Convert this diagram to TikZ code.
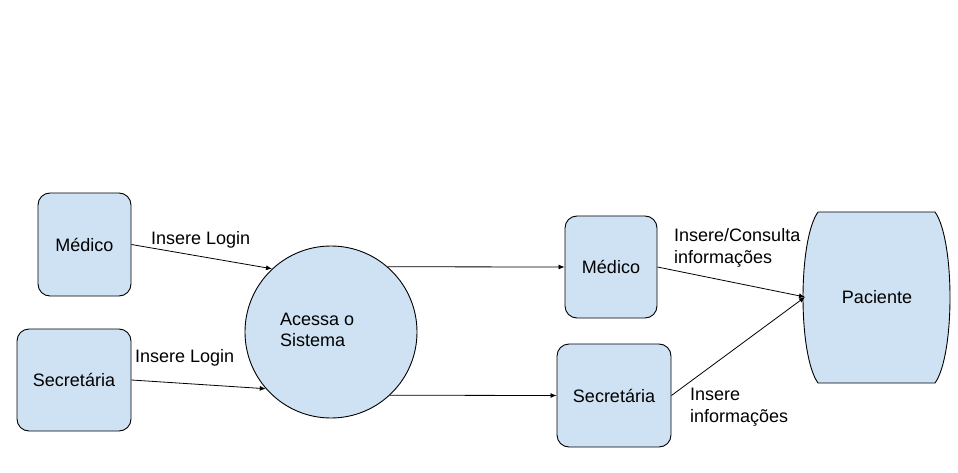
\documentclass[tikz,border=0pt]{standalone}
\usepackage{fontspec}
\setmainfont{Liberation Sans}
\usetikzlibrary{arrows.meta}
\definecolor{boxblue}{HTML}{CFE2F3}
\begin{document}
\begin{tikzpicture}[x=1pt,y=-1pt,
  every node/.style={font=\fontsize{18}{21.5}\selectfont},
  actor/.style={draw=black,fill=boxblue,line width=0.9pt,rounded corners=12pt,inner sep=0pt},
  flow/.style={draw=black,line width=0.8pt,-{Latex[length=6pt,width=5pt]}},
  lbl/.style={anchor=west,align=left,inner sep=0pt}]
\useasboundingbox (0,0) rectangle (958,473);
% left actors
\node[actor,minimum width=93pt,minimum height=103pt] (med1) at (84.5,244.5) {Médico};
\node[actor,minimum width=114pt,minimum height=102pt] (sec1) at (74,380) {Secretária};
% process
\node[draw=black,fill=boxblue,line width=0.9pt,circle,minimum size=172pt,inner sep=0pt] (proc) at (331,332) {};
\node[lbl] (proctxt) at (280,330) {Acessa o\\Sistema};
% right actors
\node[actor,minimum width=92pt,minimum height=102pt] (med2) at (611,267) {Médico};
\node[actor,minimum width=114pt,minimum height=103pt] (sec2) at (614,395.5) {Secretária};
% data store
\draw[fill=boxblue,line width=0.9pt] (818,212) -- (935,212) .. controls (955,240) and (955,355) .. (935,383) -- (818,383) .. controls (798,355) and (798,240) .. (818,212);
\node (pac) at (877,297) {Paciente};
\coordinate (pacL) at (805,297);
% connectors
\draw[flow] (med1.east) -- (proc.133);
\draw[flow] (sec1.east) -- (proc.221);
\draw[flow] (proc.49) -- (med2.west);
\draw[flow] (proc.-47.6) -- (sec2.west);
\draw[flow] (med2.east) -- (pacL);
\draw[flow] (sec2.east) -- (pacL);
% labels
\node[lbl] (l1) at (151,240) {Insere Login};
\node[lbl] (l2) at (135,358) {Insere Login};
\node[lbl] (l3) at (674,248) {Insere/Consulta\\informações};
\node[lbl] (l4) at (690,407) {Insere\\informações};
\end{tikzpicture}
\end{document}
